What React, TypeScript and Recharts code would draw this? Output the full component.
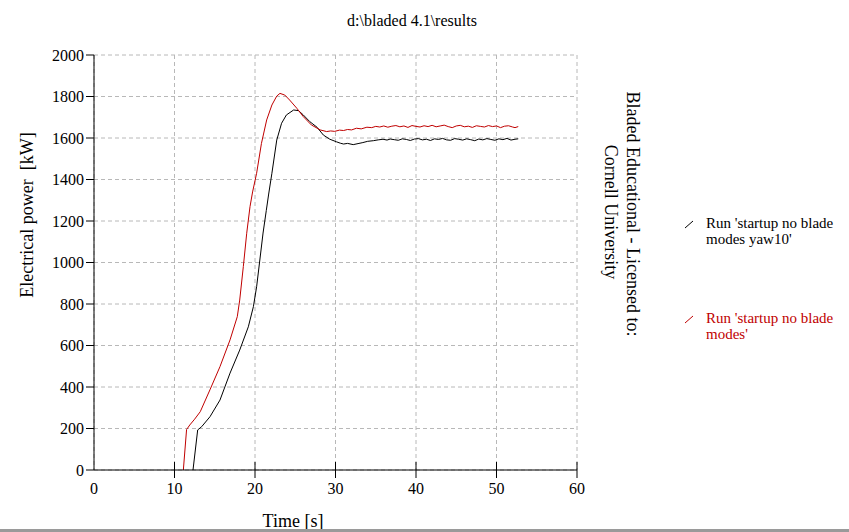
import React from "react";
import { LineChart, Line, XAxis, YAxis, CartesianGrid } from "recharts";

// Time [s] / Electrical power [kW]
const yaw10Time = [12.3, 12.88, 13.38, 14.41, 15.65, 16.9, 18.1, 19.17, 19.8, 20.2, 20.6, 21.0, 21.4, 21.7, 22.1, 22.7, 23.3, 23.9, 24.8, 25.4, 26.0, 26.8, 27.7, 28.5, 29.3, 30.1, 30.6, 31.0, 31.5, 32.2, 32.8, 33.4, 34.0, 34.7, 35.3, 35.9, 36.4, 36.8, 37.3, 37.8, 38.3, 38.8, 39.3, 39.8, 40.3, 40.8, 41.3, 41.8, 42.3, 42.8, 43.3, 43.8, 44.3, 44.8, 45.3, 45.8, 46.3, 46.8, 47.3, 47.8, 48.3, 48.8, 49.3, 49.8, 50.3, 50.8, 51.3, 51.8, 52.3, 52.7];
const yaw10Power = [0, 193, 209, 257, 337, 467, 578, 690, 787, 883, 1012, 1142, 1250, 1330, 1430, 1590, 1671, 1711, 1735, 1732, 1711, 1679, 1652, 1614, 1594, 1582, 1575, 1571, 1574, 1568, 1573, 1578, 1584, 1587, 1591, 1594, 1590, 1595, 1592, 1589, 1596, 1593, 1588, 1595, 1597, 1591, 1594, 1588, 1596, 1593, 1598, 1591, 1589, 1597, 1594, 1590, 1596, 1592, 1587, 1595, 1591, 1597, 1593, 1589, 1596, 1592, 1598, 1590, 1594, 1596];

const noYawTime = [11.1, 11.5, 11.9, 12.5, 13.2, 14.4, 15.65, 16.9, 17.8, 18.1, 18.55, 18.97, 19.38, 19.7, 20.2, 20.8, 21.45, 22.1, 22.7, 23.1, 23.7, 24.3, 25.2, 26.0, 27.0, 28.1, 28.9, 29.4, 29.9, 30.5, 31.0, 31.5, 32.0, 32.6, 33.2, 33.9, 34.5, 35.0, 35.5, 36.0, 36.5, 37.0, 37.5, 38.0, 38.5, 39.0, 39.5, 40.0, 40.5, 41.0, 41.5, 42.0, 42.5, 43.0, 43.5, 44.0, 44.5, 45.0, 45.5, 46.0, 46.5, 47.0, 47.5, 48.0, 48.5, 49.0, 49.5, 50.0, 50.5, 51.0, 51.5, 52.0, 52.3, 52.7];
const noYawPower = [0, 195, 217, 245, 281, 386, 498, 627, 739, 819, 980, 1141, 1269, 1340, 1430, 1574, 1687, 1759, 1802, 1815, 1807, 1783, 1743, 1703, 1663, 1639, 1631, 1634, 1632, 1638, 1636, 1641, 1639, 1647, 1644, 1652, 1650, 1656, 1653, 1658, 1652, 1657, 1660, 1654, 1658, 1651, 1660, 1656, 1653, 1659, 1655, 1661, 1654, 1658, 1662, 1655, 1650, 1658, 1661, 1654, 1657, 1651, 1659, 1656, 1653, 1660, 1655, 1658, 1650, 1657, 1659, 1653, 1650, 1655];

const xTicks = [0, 10, 20, 30, 40, 50, 60];
const yTicks = [0, 200, 400, 600, 800, 1000, 1200, 1400, 1600, 1800, 2000];

const seriesNames = ["Run 'startup no blade", "modes yaw10'", "Run 'startup no blade", "modes'"];
const titleText = "d:\\bladed 4.1\\results";
const yLabelText = "Electrical power  [kW]";
const xLabelText = "Time [s]";
const licenseLines = ["Bladed Educational - Licensed to:", "Cornell University"];

const yaw10Data = yaw10Time.map((t, i) => ({ t, p: yaw10Power[i] }));
const noYawData = noYawTime.map((t, i) => ({ t, p: noYawPower[i] }));

const FONT = "'Liberation Serif', 'DejaVu Serif', serif";
const RED = "#c00000";

const XTick = (props: any) => {
  const { x, y, payload } = props;
  const axisY = y - 10;
  return (
    <g>
      {payload.value !== 0 && (
        <line x1={x} x2={x} y1={axisY - 8} y2={axisY + 8} stroke="#000" strokeWidth={1} />
      )}
      <text x={x} y={y + 14} textAnchor="middle" fontFamily={FONT} fontSize={16} fill="#000">
        {payload.value}
      </text>
    </g>
  );
};

export default function App() {
  return (
    <div style={{ position: "absolute", left: 0, top: 0, width: 849, height: 532, background: "#fff" }}>
      <LineChart
        width={849}
        height={532}
        margin={{ top: 55, right: 272, bottom: 0, left: 0 }}
      >
        <CartesianGrid stroke="#b8b8b8" strokeDasharray="4 3" />
        <XAxis
          type="number"
          dataKey="t"
          domain={[0, 60]}
          ticks={xTicks}
          allowDataOverflow
          height={62}
          axisLine={{ stroke: "#000", strokeWidth: 1 }}
          tickLine={false}
          tickSize={8}
          tickMargin={2}
          tick={<XTick />}
        />
        <YAxis
          type="number"
          dataKey="p"
          domain={[0, 2000]}
          ticks={yTicks}
          width={94}
          axisLine={{ stroke: "#000", strokeWidth: 1 }}
          tickLine={{ stroke: "#000", strokeWidth: 1 }}
          tickSize={8}
          tickMargin={2}
          tick={{ fontFamily: FONT, fontSize: 16, fill: "#000" }}
        />
        <Line data={yaw10Data} dataKey="p" type="linear" stroke="#000" strokeWidth={1} dot={false} isAnimationActive={false} />
        <Line data={noYawData} dataKey="p" type="linear" stroke={RED} strokeWidth={1} dot={false} isAnimationActive={false} />
      </LineChart>
      <svg
        width={849}
        height={532}
        style={{ position: "absolute", left: 0, top: 0, pointerEvents: "none" }}
        fontFamily={FONT}
      >
        <text x={412} y={26} textAnchor="middle" fontSize={16} fill="#000">{titleText}</text>
        <text
          x={27}
          y={215}
          transform="rotate(-90 27 215)"
          textAnchor="middle"
          dominantBaseline="central"
          fontSize={18}
          fill="#000"
          style={{ whiteSpace: "pre" }}
        >
          {yLabelText}
        </text>
        <text x={293} y={527} textAnchor="middle" fontSize={18} fill="#000">{xLabelText}</text>
        <text x={633} y={214} transform="rotate(90 633 214)" textAnchor="middle" dominantBaseline="central" fontSize={18} fill="#000">
          {licenseLines[0]}
        </text>
        <text x={611} y={212} transform="rotate(90 611 212)" textAnchor="middle" dominantBaseline="central" fontSize={18} fill="#000">
          {licenseLines[1]}
        </text>
        <line x1={685} y1={228} x2={693} y2={221} stroke="#000" strokeWidth={1} />
        <text x={706} y={228} fontSize={15} fill="#000">{seriesNames[0]}</text>
        <text x={706} y={244} fontSize={15} fill="#000">{seriesNames[1]}</text>
        <line x1={685} y1={323} x2={693} y2={316} stroke={RED} strokeWidth={1} />
        <text x={706} y={323} fontSize={15} fill={RED}>{seriesNames[2]}</text>
        <text x={706} y={339} fontSize={15} fill={RED}>{seriesNames[3]}</text>
        <rect x={0} y={529} width={849} height={3} fill="#9a9a9a" />
      </svg>
    </div>
  );
}
